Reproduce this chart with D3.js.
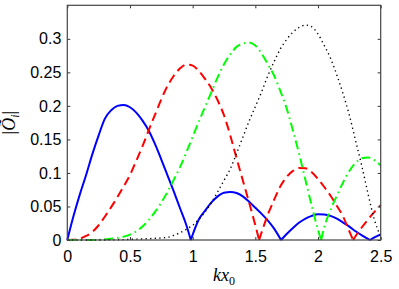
<!DOCTYPE html>
<html>
<head>
<meta charset="utf-8">
<script src="https://cdn.jsdelivr.net/npm/d3@7"></script>
<style>
  body { margin: 0; background: #fff; }
  svg { display: block; }
</style>
</head>
<body>
<div id="chart"></div>
<script>
// values
const blueX = [0,0.05,0.1,0.15,0.2,0.25,0.3,0.35,0.4,0.45,0.5,0.55,0.6,0.65,0.7,0.75,0.8,0.85,0.9,0.95,0.985,
  1.05,1.1,1.15,1.2,1.25,1.3,1.35,1.4,1.45,1.5,1.55,1.6,1.65,1.705,
  1.75,1.8,1.85,1.9,1.95,2.0,2.05,2.1,2.15,2.2,2.25,2.3,2.35,2.415,2.45,2.5];
const blueY = [0,0.036,0.068,0.097,0.128,0.156,0.181,0.1935,0.2,0.2015,0.198,0.19,0.178,0.163,0.143,0.12,0.096,0.072,0.047,0.022,0,
  0.031,0.044,0.056,0.065,0.0705,0.0715,0.07,0.065,0.057,0.048,0.039,0.029,0.017,0,
  0.009,0.018,0.026,0.032,0.036,0.0383,0.038,0.036,0.032,0.026,0.02,0.013,0.007,0,0.004,0.0085];

const redX = [0,0.05,0.1,0.15,0.2,0.25,0.3,0.35,0.4,0.45,0.5,0.55,0.6,0.65,0.7,0.75,0.8,0.85,0.9,0.95,1.0,
  1.05,1.1,1.15,1.2,1.25,1.3,1.35,1.4,1.45,1.5,1.53,
  1.6,1.65,1.7,1.75,1.8,1.85,1.9,1.95,2.0,2.05,2.1,2.15,2.2,2.25,2.28,
  2.3,2.35,2.4,2.45,2.5];
const redY = [0,0.0003,0.002,0.006,0.012,0.022,0.035,0.049,0.064,0.08,0.097,0.118,0.14,0.164,0.187,0.21,0.23,0.245,0.256,0.2615,0.26,
  0.252,0.24,0.226,0.208,0.186,0.156,0.122,0.089,0.056,0.022,0,
  0.038,0.06,0.08,0.094,0.103,0.1075,0.107,0.101,0.091,0.079,0.066,0.051,0.035,0.013,0,
  0.006,0.019,0.031,0.042,0.052];

const greenX = [0,0.1,0.2,0.3,0.4,0.45,0.5,0.55,0.6,0.65,0.7,0.75,0.8,0.85,0.9,0.95,1.0,
  1.05,1.1,1.15,1.2,1.25,1.3,1.35,1.4,1.45,1.5,1.55,1.6,1.65,1.7,1.75,1.8,1.85,1.9,1.95,2.0,2.025,
  2.05,2.1,2.15,2.2,2.25,2.3,2.35,2.4,2.45,2.5];
const greenY = [0,0,0,0.001,0.003,0.005,0.008,0.013,0.02,0.03,0.042,0.056,0.072,0.09,0.109,0.131,0.154,
  0.177,0.199,0.221,0.243,0.262,0.277,0.288,0.293,0.2945,0.29,0.278,0.262,0.245,0.222,0.196,0.163,0.128,0.089,0.051,0.015,0,
  0.019,0.045,0.066,0.086,0.103,0.115,0.122,0.123,0.119,0.111];

const blackX = [0,0.2,0.4,0.5,0.6,0.7,0.8,0.85,0.9,0.95,1.0,1.05,1.1,1.15,1.2,1.25,1.3,1.35,1.4,1.45,1.5,
  1.55,1.6,1.65,1.7,1.75,1.8,1.85,1.9,1.95,2.0,2.05,2.1,2.15,2.2,2.25,2.3,2.35,2.4,2.45,2.5];
const blackY = [0,0,0.0003,0.001,0.0015,0.0025,0.004,0.007,0.011,0.016,0.022,0.031,0.042,0.056,0.072,0.089,0.106,0.129,0.153,0.177,0.199,
  0.221,0.245,0.266,0.285,0.299,0.31,0.317,0.3205,0.318,0.307,0.29,0.271,0.246,0.218,0.186,0.148,0.11,0.068,0.03,0.005];

const xTicks = [0, 0.5, 1, 1.5, 2, 2.5];
const yTicks = [0, 0.05, 0.1, 0.15, 0.2, 0.25, 0.3];

const width = 399, height = 289;
const margin = { top: 5.3, right: 18.3, bottom: 49, left: 67.3 };

const svg = d3.select("#chart").append("svg")
  .attr("width", width)
  .attr("height", height);

const x = d3.scaleLinear().domain([0, 2.5]).range([margin.left, width - margin.right]);
const y = d3.scaleLinear().domain([0, 0.35]).range([height - margin.bottom, margin.top]);

const series = [
  { xs: blueX, ys: blueY, color: "#0000ff", width: 2, dash: null },
  { xs: redX, ys: redY, color: "#ff0000", width: 2, dash: "9,5" },
  { xs: greenX, ys: greenY, color: "#00ff00", width: 2, dash: "9,4,1.5,4" },
  { xs: blackX, ys: blackY, color: "#000", width: 1.4, dash: "1.3,3.3" }
];

const line = d3.line()
  .x(d => x(d[0]))
  .y(d => y(d[1]))
  .curve(d3.curveMonotoneX);

// split at interior zeros so the cusps stay sharp
function segments(xs, ys) {
  const pts = xs.map((v, i) => [v, ys[i]]);
  const out = [];
  let cur = [];
  pts.forEach((p, i) => {
    cur.push(p);
    if (p[1] === 0 && i > 0 && i < pts.length - 1 && pts[i - 1][1] > 0 && pts[i + 1][1] > 0) {
      out.push(cur);
      cur = [p];
    }
  });
  out.push(cur);
  return out;
}

const plot = svg.append("g");
series.forEach(s => {
  plot.append("path")
    .attr("fill", "none")
    .attr("stroke", s.color)
    .attr("stroke-width", s.width)
    .attr("stroke-dasharray", s.dash)
    .attr("d", segments(s.xs, s.ys).map(seg => line(seg)).join(""));
});

const axisFont = "Liberation Sans, Arial, sans-serif";

svg.append("g")
  .attr("transform", `translate(0,${y(0)})`)
  .call(d3.axisBottom(x).tickValues(xTicks).tickFormat(d3.format("")).tickSize(-3).tickPadding(11));
svg.append("g")
  .attr("transform", `translate(${x(0)},0)`)
  .call(d3.axisLeft(y).tickValues(yTicks).tickFormat(d3.format("")).tickSize(-3).tickPadding(6));
svg.append("g")
  .attr("transform", `translate(0,${margin.top})`)
  .call(d3.axisTop(x).tickValues(xTicks).tickFormat("").tickSize(-3));
svg.append("g")
  .attr("transform", `translate(${x(2.5)},0)`)
  .call(d3.axisRight(y).tickValues(yTicks).tickFormat("").tickSize(-3));

svg.selectAll(".domain").remove();
svg.selectAll(".tick line").attr("stroke", "#333");
svg.selectAll(".tick text")
  .attr("fill", "#000")
  .style("font-family", axisFont)
  .style("font-size", "16px");

svg.append("rect")
  .attr("x", x(0))
  .attr("y", y(0.35))
  .attr("width", x(2.5) - x(0))
  .attr("height", y(0) - y(0.35))
  .attr("fill", "none")
  .attr("stroke", "#444")
  .attr("stroke-width", 1.2);

// x label: k x_0
const xl = svg.append("text")
  .attr("x", (x(0) + x(2.5)) / 2)
  .attr("y", 281)
  .attr("text-anchor", "middle")
  .style("font-family", "Liberation Serif, Times New Roman, serif")
  .style("font-size", "18px");
xl.append("tspan").style("font-style", "italic").text("kx");
xl.append("tspan").attr("dy", 4).style("font-size", "12px").text("0");

// y label: |Õ_i|
const yl = svg.append("text")
  .attr("transform", `translate(15,${(y(0) + y(0.35)) / 2}) rotate(-90)`)
  .attr("text-anchor", "middle")
  .style("font-family", "Liberation Serif, Times New Roman, serif")
  .style("font-size", "18px");
yl.append("tspan").text("|");
yl.append("tspan").style("font-style", "italic").text("Õ");
yl.append("tspan").attr("dy", 4).style("font-size", "12px").style("font-style", "italic").text("i");
yl.append("tspan").attr("dy", -4).text("|");
</script>
</body>
</html>
